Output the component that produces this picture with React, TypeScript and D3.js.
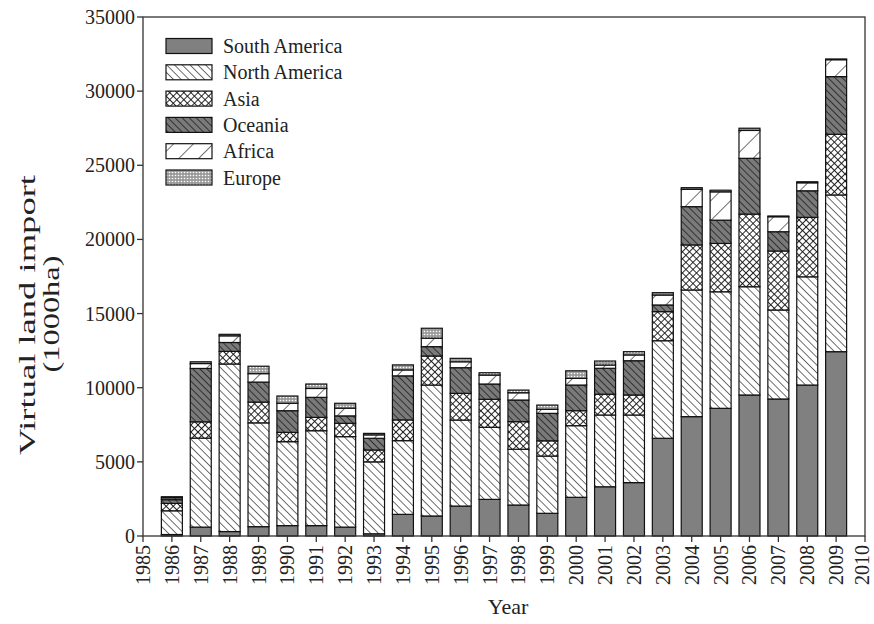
import React from 'react';
import * as d3 from 'd3';

const years = [1986, 1987, 1988, 1989, 1990, 1991, 1992, 1993, 1994, 1995, 1996, 1997, 1998, 1999, 2000, 2001, 2002, 2003, 2004, 2005, 2006, 2007, 2008, 2009];
const southAmerica = [100, 600, 300, 630, 700, 700, 600, 150, 1460, 1350, 2020, 2470, 2090, 1530, 2610, 3320, 3600, 6590, 8050, 8610, 9510, 9240, 10180, 12430];
const northAmerica = [1600, 6000, 11300, 7000, 5660, 6400, 6100, 4850, 4970, 8830, 5800, 4860, 3760, 3860, 4830, 4840, 4560, 6580, 8540, 7860, 7300, 6000, 7300, 10570];
const asia = [500, 1100, 850, 1400, 630, 900, 900, 800, 1400, 1960, 1800, 1890, 1860, 1030, 1010, 1400, 1350, 1960, 3040, 3260, 4900, 3980, 4010, 4090];
const oceania = [250, 3600, 600, 1350, 1460, 1350, 500, 790, 2970, 630, 1730, 1030, 1460, 1850, 1730, 1750, 2310, 450, 2580, 1570, 3760, 1300, 1790, 3890];
const africa = [120, 330, 450, 570, 500, 600, 520, 230, 400, 570, 400, 600, 490, 270, 450, 220, 390, 670, 1170, 1910, 1880, 1010, 540, 1140];
const europe = [80, 120, 100, 500, 490, 300, 330, 100, 340, 670, 230, 160, 180, 290, 510, 270, 220, 160, 110, 110, 150, 50, 70, 50];

const seriesNames = ['South America', 'North America', 'Asia', 'Oceania', 'Africa', 'Europe'];
const seriesValues = [southAmerica, northAmerica, asia, oceania, africa, europe];
const patternIds = ['pSA', 'pNA', 'pAS', 'pOC', 'pAF', 'pEU'];
const yTickValues = [0, 5000, 10000, 15000, 20000, 25000, 30000, 35000];
const xTickValues = [1985, 1986, 1987, 1988, 1989, 1990, 1991, 1992, 1993, 1994, 1995, 1996, 1997, 1998, 1999, 2000, 2001, 2002, 2003, 2004, 2005, 2006, 2007, 2008, 2009, 2010];

const W = 874;
const H = 624;
const FONT = '"Liberation Serif", "Times New Roman", serif';

export default function App() {
  const x = d3.scaleLinear().domain([1985, 2010]).range([143, 865]);
  const y = d3.scaleLinear().domain([0, 35000]).range([536, 17]);
  const rows = years.map((yr, i) => {
    const r: any = { year: yr };
    seriesNames.forEach((n, k) => (r[n] = seriesValues[k][i]));
    return r;
  });
  const stacked = d3.stack<any>().keys(seriesNames)(rows);
  const bw = 21;

  return (
    <div style={{ position: 'fixed', left: 0, top: 0 }}>
      <svg width={W} height={H} style={{ display: 'block', background: '#fff' }} fontFamily={FONT}>
        <defs>
          <pattern id="pSA" patternUnits="userSpaceOnUse" width={4} height={4}>
            <rect width={4} height={4} fill="#808080" />
          </pattern>
          <pattern id="pNA" patternUnits="userSpaceOnUse" width={5.5} height={5.5} patternTransform="rotate(-45)">
            <rect width={5.5} height={5.5} fill="#fff" />
            <line x1={0} y1={0} x2={0} y2={5.5} stroke="#222" strokeWidth={1.3} />
          </pattern>
          <pattern id="pAS" patternUnits="userSpaceOnUse" width={5} height={5} patternTransform="rotate(45)">
            <rect width={5} height={5} fill="#fff" />
            <line x1={0} y1={0} x2={0} y2={5} stroke="#111" strokeWidth={1.8} />
            <line x1={0} y1={0} x2={5} y2={0} stroke="#111" strokeWidth={1.8} />
          </pattern>
          <pattern id="pOC" patternUnits="userSpaceOnUse" width={5} height={5} patternTransform="rotate(-45)">
            <rect width={5} height={5} fill="#7a7a7a" />
            <line x1={0} y1={0} x2={0} y2={5} stroke="#111" strokeWidth={1.4} />
          </pattern>
          <pattern id="pAF" patternUnits="userSpaceOnUse" width={14} height={14} patternTransform="rotate(45)">
            <rect width={14} height={14} fill="#fff" />
            <line x1={0} y1={0} x2={0} y2={14} stroke="#222" strokeWidth={1.3} />
          </pattern>
          <pattern id="pEU" patternUnits="userSpaceOnUse" width={3} height={3}>
            <rect width={3} height={3} fill="#9a9a9a" />
            <circle cx={1.5} cy={1.5} r={0.8} fill="#fff" />
          </pattern>
        </defs>

        {/* bars */}
        {stacked.map((s, k) => (
          <g key={s.key}>
            {s.map((d: any, i: number) => {
              const top = y(d[1]);
              const bot = y(d[0]);
              return (
                <rect
                  key={i}
                  x={x(years[i]) - bw / 2}
                  y={top}
                  width={bw}
                  height={Math.max(0, bot - top)}
                  fill={`url(#${patternIds[k]})`}
                  stroke="#111"
                  strokeWidth={1.2}
                />
              );
            })}
          </g>
        ))}

        {/* frame */}
        <rect x={x(1985)} y={y(35000)} width={x(2010) - x(1985)} height={y(0) - y(35000)} fill="none" stroke="#333" strokeWidth={1.3} />

        {/* y axis */}
        {yTickValues.map((t) => (
          <g key={t}>
            <line x1={x(1985) - 6} x2={x(1985)} y1={y(t)} y2={y(t)} stroke="#333" strokeWidth={1.3} />
            <text x={x(1985) - 8} y={y(t) + 7} textAnchor="end" fontSize={20} fill="#222">{t}</text>
          </g>
        ))}

        {/* x axis */}
        {xTickValues.map((t) => (
          <g key={t}>
            <line x1={x(t)} x2={x(t)} y1={y(0)} y2={y(0) + 6} stroke="#333" strokeWidth={1.3} />
            <text transform={`translate(${Math.min(x(t) + 7, 869)},${y(0) + 9}) rotate(-90)`} textAnchor="end" fontSize={20} fill="#222">{t}</text>
          </g>
        ))}

        <text x={508} y={614} textAnchor="middle" fontSize={22} fill="#222">Year</text>
        <text transform="translate(35,315) rotate(-90)" textAnchor="middle" fontSize={24} fill="#222" textLength={280} lengthAdjust="spacingAndGlyphs">Virtual land import</text>
        <text transform="translate(59,314) rotate(-90)" textAnchor="middle" fontSize={24} fill="#222" textLength={117} lengthAdjust="spacingAndGlyphs">(1000ha)</text>

        {/* legend */}
        {seriesNames.map((n, k) => {
          const ly = 38.5 + k * 26.3;
          return (
            <g key={n}>
              <rect x={166} y={ly} width={46} height={15} fill={`url(#${patternIds[k]})`} stroke="#111" strokeWidth={1.2} />
              <text x={223} y={ly + 14.5} fontSize={20} fill="#222">{n}</text>
            </g>
          );
        })}
      </svg>
    </div>
  );
}
